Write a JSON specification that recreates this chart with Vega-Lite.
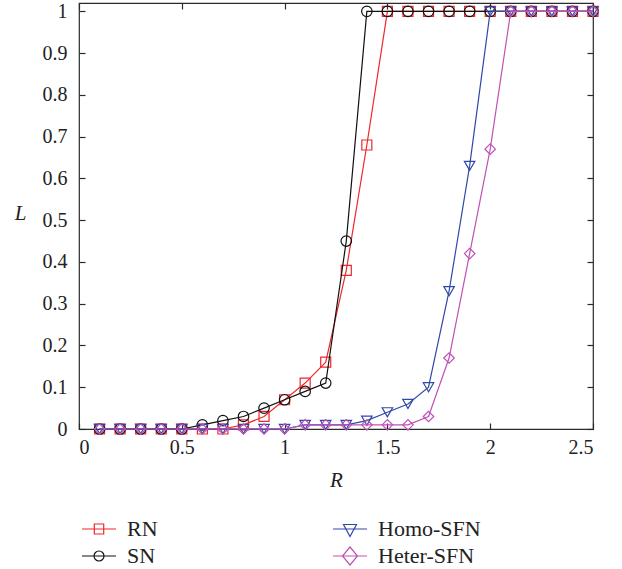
{
  "$schema": "https://vega.github.io/schema/vega-lite/v6.json",
  "width": 514,
  "height": 426,
  "autosize": {"type": "none"},
  "padding": {"left": 79, "top": 3, "right": 29, "bottom": 140},
  "background": "white",
  "config": {
    "view": {"stroke": "#2a2a2a", "strokeWidth": 1.2},
    "font": "Liberation Serif",
    "axis": {
      "grid": false,
      "domain": false,
      "tickColor": "#2a2a2a",
      "tickWidth": 1.2,
      "tickSize": -6,
      "labelFont": "Liberation Serif",
      "labelFontSize": 20,
      "labelColor": "#222",
      "titleFont": "Liberation Serif",
      "titleFontSize": 21,
      "titleFontStyle": "italic",
      "titleFontWeight": "normal",
      "titleColor": "#222"
    },
    "legend": {
      "title": null,
      "orient": "none",
      "labelFont": "Liberation Serif",
      "labelFontSize": 22,
      "labelColor": "#222",
      "symbolSize": 400,
      "symbolStrokeWidth": 1.2,
      "symbolFillColor": "transparent",
      "labelOffset": 17
    }
  },
  "data": {
    "values": [
      {"R": 0.1, "L": 0, "net": "RN"}, {"R": 0.2, "L": 0, "net": "RN"}, {"R": 0.3, "L": 0, "net": "RN"},
      {"R": 0.4, "L": 0, "net": "RN"}, {"R": 0.5, "L": 0, "net": "RN"}, {"R": 0.6, "L": 0, "net": "RN"},
      {"R": 0.7, "L": 0, "net": "RN"}, {"R": 0.8, "L": 0.01, "net": "RN"}, {"R": 0.9, "L": 0.03, "net": "RN"},
      {"R": 1.0, "L": 0.07, "net": "RN"}, {"R": 1.1, "L": 0.11, "net": "RN"}, {"R": 1.2, "L": 0.16, "net": "RN"},
      {"R": 1.3, "L": 0.38, "net": "RN"}, {"R": 1.4, "L": 0.68, "net": "RN"}, {"R": 1.5, "L": 1, "net": "RN"},
      {"R": 1.6, "L": 1, "net": "RN"}, {"R": 1.7, "L": 1, "net": "RN"}, {"R": 1.8, "L": 1, "net": "RN"},
      {"R": 1.9, "L": 1, "net": "RN"}, {"R": 2.0, "L": 1, "net": "RN"}, {"R": 2.1, "L": 1, "net": "RN"},
      {"R": 2.2, "L": 1, "net": "RN"}, {"R": 2.3, "L": 1, "net": "RN"}, {"R": 2.4, "L": 1, "net": "RN"},
      {"R": 2.5, "L": 1, "net": "RN"},

      {"R": 0.1, "L": 0, "net": "SN"}, {"R": 0.2, "L": 0, "net": "SN"}, {"R": 0.3, "L": 0, "net": "SN"},
      {"R": 0.4, "L": 0, "net": "SN"}, {"R": 0.5, "L": 0, "net": "SN"}, {"R": 0.6, "L": 0.01, "net": "SN"},
      {"R": 0.7, "L": 0.02, "net": "SN"}, {"R": 0.8, "L": 0.03, "net": "SN"}, {"R": 0.9, "L": 0.05, "net": "SN"},
      {"R": 1.0, "L": 0.07, "net": "SN"}, {"R": 1.1, "L": 0.09, "net": "SN"}, {"R": 1.2, "L": 0.11, "net": "SN"},
      {"R": 1.3, "L": 0.45, "net": "SN"}, {"R": 1.4, "L": 1, "net": "SN"}, {"R": 1.5, "L": 1, "net": "SN"},
      {"R": 1.6, "L": 1, "net": "SN"}, {"R": 1.7, "L": 1, "net": "SN"}, {"R": 1.8, "L": 1, "net": "SN"},
      {"R": 1.9, "L": 1, "net": "SN"}, {"R": 2.0, "L": 1, "net": "SN"}, {"R": 2.1, "L": 1, "net": "SN"},
      {"R": 2.2, "L": 1, "net": "SN"}, {"R": 2.3, "L": 1, "net": "SN"}, {"R": 2.4, "L": 1, "net": "SN"},
      {"R": 2.5, "L": 1, "net": "SN"},

      {"R": 0.1, "L": 0, "net": "Homo-SFN"}, {"R": 0.2, "L": 0, "net": "Homo-SFN"}, {"R": 0.3, "L": 0, "net": "Homo-SFN"},
      {"R": 0.4, "L": 0, "net": "Homo-SFN"}, {"R": 0.5, "L": 0, "net": "Homo-SFN"}, {"R": 0.6, "L": 0, "net": "Homo-SFN"},
      {"R": 0.7, "L": 0, "net": "Homo-SFN"}, {"R": 0.8, "L": 0, "net": "Homo-SFN"}, {"R": 0.9, "L": 0, "net": "Homo-SFN"},
      {"R": 1.0, "L": 0, "net": "Homo-SFN"}, {"R": 1.1, "L": 0.01, "net": "Homo-SFN"}, {"R": 1.2, "L": 0.01, "net": "Homo-SFN"},
      {"R": 1.3, "L": 0.01, "net": "Homo-SFN"}, {"R": 1.4, "L": 0.02, "net": "Homo-SFN"}, {"R": 1.5, "L": 0.04, "net": "Homo-SFN"},
      {"R": 1.6, "L": 0.06, "net": "Homo-SFN"}, {"R": 1.7, "L": 0.1, "net": "Homo-SFN"}, {"R": 1.8, "L": 0.33, "net": "Homo-SFN"},
      {"R": 1.9, "L": 0.63, "net": "Homo-SFN"}, {"R": 2.0, "L": 1, "net": "Homo-SFN"}, {"R": 2.1, "L": 1, "net": "Homo-SFN"},
      {"R": 2.2, "L": 1, "net": "Homo-SFN"}, {"R": 2.3, "L": 1, "net": "Homo-SFN"}, {"R": 2.4, "L": 1, "net": "Homo-SFN"},
      {"R": 2.5, "L": 1, "net": "Homo-SFN"},

      {"R": 0.1, "L": 0, "net": "Heter-SFN"}, {"R": 0.2, "L": 0, "net": "Heter-SFN"}, {"R": 0.3, "L": 0, "net": "Heter-SFN"},
      {"R": 0.4, "L": 0, "net": "Heter-SFN"}, {"R": 0.5, "L": 0, "net": "Heter-SFN"}, {"R": 0.6, "L": 0, "net": "Heter-SFN"},
      {"R": 0.7, "L": 0, "net": "Heter-SFN"}, {"R": 0.8, "L": 0, "net": "Heter-SFN"}, {"R": 0.9, "L": 0, "net": "Heter-SFN"},
      {"R": 1.0, "L": 0, "net": "Heter-SFN"}, {"R": 1.1, "L": 0.01, "net": "Heter-SFN"}, {"R": 1.2, "L": 0.01, "net": "Heter-SFN"},
      {"R": 1.3, "L": 0.01, "net": "Heter-SFN"}, {"R": 1.4, "L": 0.01, "net": "Heter-SFN"}, {"R": 1.5, "L": 0.01, "net": "Heter-SFN"},
      {"R": 1.6, "L": 0.01, "net": "Heter-SFN"}, {"R": 1.7, "L": 0.03, "net": "Heter-SFN"}, {"R": 1.8, "L": 0.17, "net": "Heter-SFN"},
      {"R": 1.9, "L": 0.42, "net": "Heter-SFN"}, {"R": 2.0, "L": 0.67, "net": "Heter-SFN"}, {"R": 2.1, "L": 1, "net": "Heter-SFN"},
      {"R": 2.2, "L": 1, "net": "Heter-SFN"}, {"R": 2.3, "L": 1, "net": "Heter-SFN"}, {"R": 2.4, "L": 1, "net": "Heter-SFN"},
      {"R": 2.5, "L": 1, "net": "Heter-SFN"}
    ]
  },
  "resolve": {"scale": {"color": "independent"}},
  "layer": [
    {
      "transform": [{"filter": "datum.net === 'RN'"}],
      "mark": {"type": "line", "strokeWidth": 1.2, "clip": false,
               "point": {"shape": "square", "filled": false, "size": 100, "strokeWidth": 1.2}},
      "encoding": {
        "x": {
          "field": "R", "type": "quantitative",
          "scale": {"domain": [0, 2.5], "nice": false},
          "axis": {"orient": "bottom", "values": [0, 0.5, 1, 1.5, 2, 2.5], "format": "~g",
                   "labelPadding": 14, "title": "R", "titleX": 257, "titleY": 51,
                   "titleBaseline": "middle", "titleAlign": "center"}
        },
        "y": {
          "field": "L", "type": "quantitative",
          "scale": {"domain": [0, 1.02], "nice": false},
          "axis": {"orient": "left", "values": [0, 0.1, 0.2, 0.3, 0.4, 0.5, 0.6, 0.7, 0.8, 0.9, 1], "format": "~g",
                   "labelPadding": 18, "title": "L", "titleAngle": 0, "titleX": -59, "titleY": 210,
                   "titleAlign": "center", "titleBaseline": "middle"}
        },
        "color": {
          "field": "net", "type": "nominal",
          "scale": {"domain": ["RN"], "range": ["#f0262a"]},
          "legend": {"legendX": 9, "legendY": 515,
                     "symbolType": "M-1.7,0H1.7M-0.47,-0.5H0.47V0.5H-0.47Z"}
        }
      }
    },
    {
      "transform": [{"filter": "datum.net === 'SN'"}],
      "mark": {"type": "line", "strokeWidth": 1.2, "clip": false,
               "point": {"shape": "circle", "filled": false, "size": 110, "strokeWidth": 1.2}},
      "encoding": {
        "x": {
          "field": "R", "type": "quantitative",
          "axis": {"orient": "top", "values": [0, 0.5, 1, 1.5, 2, 2.5], "labels": false, "title": null}
        },
        "y": {
          "field": "L", "type": "quantitative",
          "axis": {"orient": "right", "values": [0, 0.1, 0.2, 0.3, 0.4, 0.5, 0.6, 0.7, 0.8, 0.9, 1], "labels": false, "title": null}
        },
        "color": {
          "field": "net", "type": "nominal",
          "scale": {"domain": ["SN"], "range": ["#111111"]},
          "legend": {"legendX": 9, "legendY": 542,
                     "symbolType": "M-1.7,0H1.7M0.5,0A0.5,0.5 0 1 1 -0.5,0A0.5,0.5 0 1 1 0.5,0Z"}
        }
      }
    },
    {
      "transform": [{"filter": "datum.net === 'Homo-SFN'"}],
      "mark": {"type": "line", "strokeWidth": 1.2, "clip": false,
               "point": {"shape": "triangle-down", "filled": false, "size": 110, "strokeWidth": 1.2}},
      "encoding": {
        "x": {"field": "R", "type": "quantitative", "axis": null},
        "y": {"field": "L", "type": "quantitative", "axis": null},
        "color": {
          "field": "net", "type": "nominal",
          "scale": {"domain": ["Homo-SFN"], "range": ["#3049a8"]},
          "legend": {"legendX": 260, "legendY": 515,
                     "symbolType": "M-1.7,0H1.7M-0.65,-0.45H0.65L0,0.75Z"}
        }
      }
    },
    {
      "transform": [{"filter": "datum.net === 'Heter-SFN'"}],
      "mark": {"type": "line", "strokeWidth": 1.2, "clip": false,
               "point": {"shape": "diamond", "filled": false, "size": 110, "strokeWidth": 1.2}},
      "encoding": {
        "x": {"field": "R", "type": "quantitative", "axis": null},
        "y": {"field": "L", "type": "quantitative", "axis": null},
        "color": {
          "field": "net", "type": "nominal",
          "scale": {"domain": ["Heter-SFN"], "range": ["#bf51b5"]},
          "legend": {"legendX": 260, "legendY": 542,
                     "symbolType": "M-1.7,0H1.7M0,-0.9L0.75,0L0,0.9L-0.75,0Z"}
        }
      }
    }
  ]
}
